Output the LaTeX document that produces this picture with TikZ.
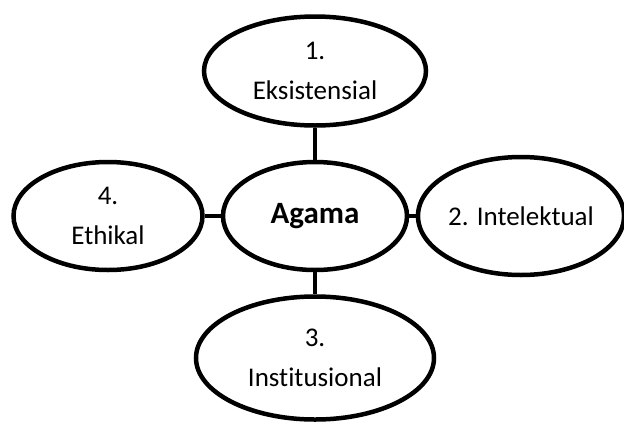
\documentclass[tikz,border=0pt]{standalone}
\usepackage{fontspec}
\setmainfont{Carlito}[Ligatures=NoCommon]
\usepackage{tikz}
\usetikzlibrary{shapes.geometric}
\tikzset{bubble/.style = {draw, ellipse, line width=4.5pt, inner sep=0pt, align=center,
                          font=\fontsize{27}{40}\selectfont},
         link/.style = {line width=4.5pt}}

\begin{document}
\begin{tikzpicture}[x=1pt, y=-1pt]
      \useasboundingbox (0, 0) rectangle (624, 421);

      \node [bubble, minimum width=184pt, minimum height=108pt,
             font=\fontsize{31}{36}\selectfont\bfseries] (agama) at (315, 216) {Agama};
      \node [bubble, minimum width=222pt, minimum height=109pt] (eksis) at (315, 71) {1.\\Eksistensial};
      \node [bubble, minimum width=198pt, minimum height=118pt] (intel) at (521, 216) {2. Intelektual};
      \node [bubble, minimum width=238pt, minimum height=123pt] (instit) at (315, 358) {3.\\Institusional};
      \node [bubble, minimum width=189pt, minimum height=108pt] (ethik) at (108, 216) {4.\\Ethikal};

      \draw [link] (eksis) -- (agama);
      \draw [link] (agama) -- (intel);
      \draw [link] (agama) -- (instit);
      \draw [link] (ethik) -- (agama);
    \end{tikzpicture}
\end{document}
